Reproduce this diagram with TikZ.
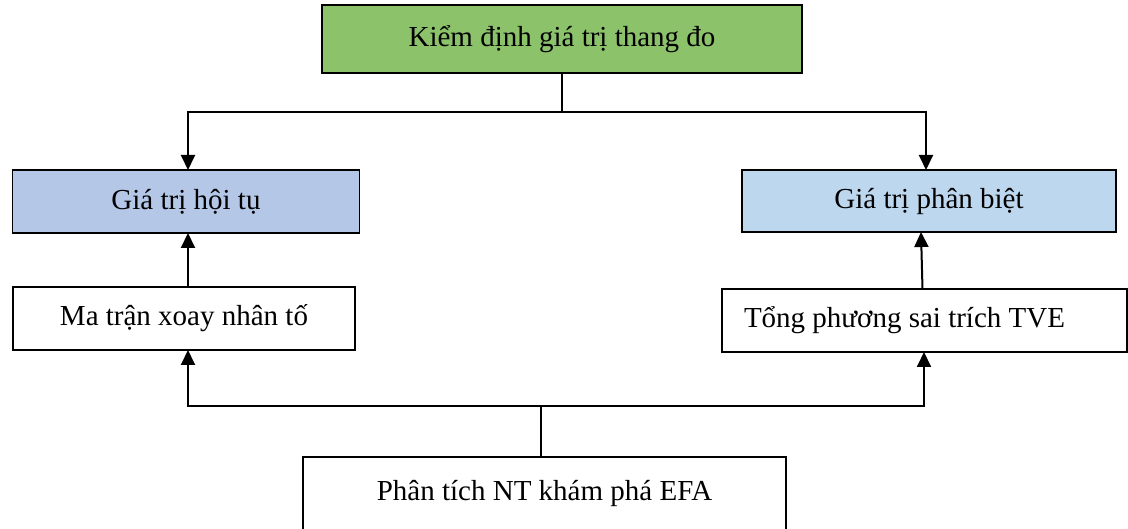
\documentclass[tikz,border=0pt]{standalone}
\usepackage{fontspec}
\setmainfont{Liberation Serif}
\usetikzlibrary{arrows.meta}

\definecolor{headgreen}{RGB}{140,194,106}
\definecolor{convblue}{RGB}{180,199,231}
\definecolor{discblue}{RGB}{189,215,238}

\tikzset{
  box/.style={draw=black, line width=1.4pt, inner sep=0pt, outer sep=0pt,
              font=\fontsize{29}{34}\selectfont},
  link/.style={line width=2pt},
  arr/.style={link, -{Triangle[width=14pt,length=15pt]}}
}

\begin{document}
\begin{tikzpicture}[x=1pt,y=-1pt]
  \useasboundingbox (0,0) rectangle (1128,529);
  \clip (0,0) rectangle (1128,529);

  % main test and its two validity types
  \node[box, fill=headgreen, minimum width=480pt, minimum height=68pt]
    (test) at (562,39) {Kiểm định giá trị thang đo};
  \node[box, fill=convblue, minimum width=347pt, minimum height=63pt]
    (conv) at (186,201.5) {Giá trị hội tụ};
  \node[box, fill=discblue, minimum width=374pt, minimum height=62pt]
    (disc) at (929,201) {Giá trị phân biệt};

  % evidence taken from the factor analysis
  \node[box, fill=white, minimum width=342pt, minimum height=63pt]
    (rot) at (184,318.5) {Ma trận xoay nhân tố};
  \node[box, fill=white, text width=361pt, inner xsep=22pt, align=flush left,
        minimum height=63pt]
    (tve) at (924.5,320.5) {Tổng phương sai trích TVE};

  % exploratory factor analysis, running off the page bottom
  \node[box, fill=white, anchor=north, minimum width=483pt, minimum height=90pt,
        text height=20pt, text depth=24pt]
    (efa) at (544.5,457) {Phân tích NT khám phá EFA};

  % branching from the main test
  \coordinate (topbus) at (562,112);
  \draw[link] (test.south) -- (topbus);
  \draw[arr] (topbus) -| ([xshift=2pt]conv.north);
  \draw[arr] (topbus) -| ([xshift=-3pt]disc.north);

  % supporting evidence up to each validity
  \draw[arr] ([xshift=4pt]rot.north) -- ([xshift=2pt]conv.south);
  \draw[arr] ([xshift=-2pt]tve.north) -- ([xshift=-8pt]disc.south);

  % branching from the EFA
  \coordinate (lowbus) at (541,406);
  \draw[link] (efa.north -| lowbus) -- (lowbus);
  \draw[arr] (lowbus) -| ([xshift=4pt]rot.south);
  \draw[arr] (lowbus) -| ([xshift=-0.5pt]tve.south);
\end{tikzpicture}
\end{document}
